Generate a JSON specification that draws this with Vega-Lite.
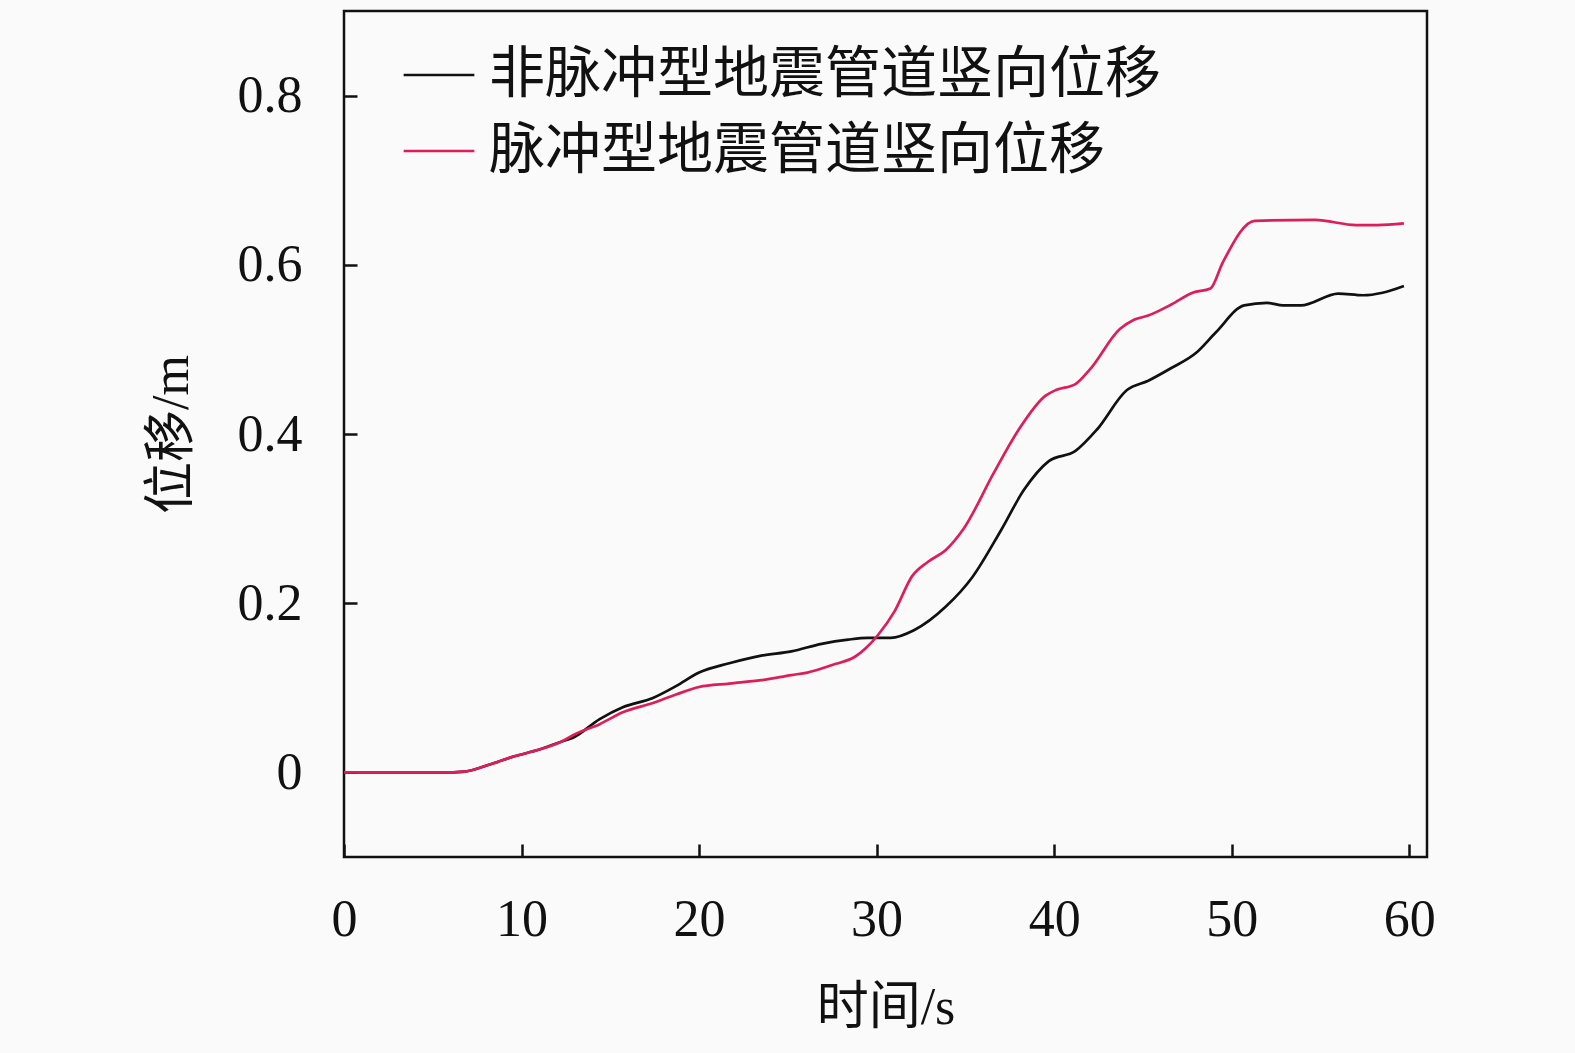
{
  "$schema": "https://vega.github.io/schema/vega-lite/v6.json",
  "width": 1083,
  "height": 846,
  "autosize": "none",
  "padding": {"left": 344, "top": 11, "right": 148, "bottom": 196},
  "background": "#fafafa",
  "data": {
    "values": [
      {"s": "非脉冲型地震管道竖向位移", "t": 0, "v": 0},
      {"s": "非脉冲型地震管道竖向位移", "t": 3, "v": 0},
      {"s": "非脉冲型地震管道竖向位移", "t": 5.5, "v": 0},
      {"s": "非脉冲型地震管道竖向位移", "t": 6.8, "v": 0.001},
      {"s": "非脉冲型地震管道竖向位移", "t": 8.3, "v": 0.01},
      {"s": "非脉冲型地震管道竖向位移", "t": 9.6, "v": 0.019},
      {"s": "非脉冲型地震管道竖向位移", "t": 11, "v": 0.027},
      {"s": "非脉冲型地震管道竖向位移", "t": 12.2, "v": 0.036},
      {"s": "非脉冲型地震管道竖向位移", "t": 12.9, "v": 0.041},
      {"s": "非脉冲型地震管道竖向位移", "t": 14.4, "v": 0.063},
      {"s": "非脉冲型地震管道竖向位移", "t": 15.7, "v": 0.077},
      {"s": "非脉冲型地震管道竖向位移", "t": 17.4, "v": 0.088},
      {"s": "非脉冲型地震管道竖向位移", "t": 18.7, "v": 0.102},
      {"s": "非脉冲型地震管道竖向位移", "t": 20.0, "v": 0.118},
      {"s": "非脉冲型地震管道竖向位移", "t": 21.7, "v": 0.129},
      {"s": "非脉冲型地震管道竖向位移", "t": 23.5, "v": 0.138},
      {"s": "非脉冲型地震管道竖向位移", "t": 25.2, "v": 0.143},
      {"s": "非脉冲型地震管道竖向位移", "t": 26.9, "v": 0.152},
      {"s": "非脉冲型地震管道竖向位移", "t": 28.4, "v": 0.157},
      {"s": "非脉冲型地震管道竖向位移", "t": 29.5, "v": 0.159},
      {"s": "非脉冲型地震管道竖向位移", "t": 30.8, "v": 0.159},
      {"s": "非脉冲型地震管道竖向位移", "t": 32.1, "v": 0.168},
      {"s": "非脉冲型地震管道竖向位移", "t": 33.9, "v": 0.196},
      {"s": "非脉冲型地震管道竖向位移", "t": 35.4, "v": 0.231},
      {"s": "非脉冲型地震管道竖向位移", "t": 37.0, "v": 0.286},
      {"s": "非脉冲型地震管道竖向位移", "t": 38.3, "v": 0.334},
      {"s": "非脉冲型地震管道竖向位移", "t": 39.7, "v": 0.368},
      {"s": "非脉冲型地震管道竖向位移", "t": 41.2, "v": 0.38},
      {"s": "非脉冲型地震管道竖向位移", "t": 42.4, "v": 0.405},
      {"s": "非脉冲型地震管道竖向位移", "t": 44.1, "v": 0.452},
      {"s": "非脉冲型地震管道竖向位移", "t": 45.3, "v": 0.463},
      {"s": "非脉冲型地震管道竖向位移", "t": 46.6, "v": 0.478},
      {"s": "非脉冲型地震管道竖向位移", "t": 48.0, "v": 0.496},
      {"s": "非脉冲型地震管道竖向位移", "t": 49.1, "v": 0.52},
      {"s": "非脉冲型地震管道竖向位移", "t": 50.7, "v": 0.552},
      {"s": "非脉冲型地震管道竖向位移", "t": 52.0, "v": 0.555},
      {"s": "非脉冲型地震管道竖向位移", "t": 52.9, "v": 0.552},
      {"s": "非脉冲型地震管道竖向位移", "t": 53.9, "v": 0.552},
      {"s": "非脉冲型地震管道竖向位移", "t": 56.0, "v": 0.566},
      {"s": "非脉冲型地震管道竖向位移", "t": 57.4, "v": 0.564},
      {"s": "非脉冲型地震管道竖向位移", "t": 58.5, "v": 0.567},
      {"s": "非脉冲型地震管道竖向位移", "t": 59.7, "v": 0.575},
      {"s": "脉冲型地震管道竖向位移", "t": 0, "v": 0},
      {"s": "脉冲型地震管道竖向位移", "t": 3, "v": 0},
      {"s": "脉冲型地震管道竖向位移", "t": 5.5, "v": 0},
      {"s": "脉冲型地震管道竖向位移", "t": 6.8, "v": 0.001},
      {"s": "脉冲型地震管道竖向位移", "t": 8.3, "v": 0.01},
      {"s": "脉冲型地震管道竖向位移", "t": 9.6, "v": 0.019},
      {"s": "脉冲型地震管道竖向位移", "t": 11, "v": 0.027},
      {"s": "脉冲型地震管道竖向位移", "t": 12.2, "v": 0.036},
      {"s": "脉冲型地震管道竖向位移", "t": 13.1, "v": 0.046},
      {"s": "脉冲型地震管道竖向位移", "t": 14.4, "v": 0.057},
      {"s": "脉冲型地震管道竖向位移", "t": 15.7, "v": 0.071},
      {"s": "脉冲型地震管道竖向位移", "t": 17.4, "v": 0.082},
      {"s": "脉冲型地震管道竖向位移", "t": 18.7, "v": 0.092},
      {"s": "脉冲型地震管道竖向位移", "t": 20.0, "v": 0.101},
      {"s": "脉冲型地震管道竖向位移", "t": 21.7, "v": 0.105},
      {"s": "脉冲型地震管道竖向位移", "t": 23.5, "v": 0.109},
      {"s": "脉冲型地震管道竖向位移", "t": 25.2, "v": 0.115},
      {"s": "脉冲型地震管道竖向位移", "t": 26.1, "v": 0.118},
      {"s": "脉冲型地震管道竖向位移", "t": 27.5, "v": 0.127},
      {"s": "脉冲型地震管道竖向位移", "t": 28.8, "v": 0.137},
      {"s": "脉冲型地震管道竖向位移", "t": 29.4, "v": 0.147},
      {"s": "脉冲型地震管道竖向位移", "t": 30.1, "v": 0.163},
      {"s": "脉冲型地震管道竖向位移", "t": 31.0, "v": 0.19},
      {"s": "脉冲型地震管道竖向位移", "t": 32.0, "v": 0.232},
      {"s": "脉冲型地震管道竖向位移", "t": 32.9, "v": 0.249},
      {"s": "脉冲型地震管道竖向位移", "t": 33.9, "v": 0.263},
      {"s": "脉冲型地震管道竖向位移", "t": 34.9, "v": 0.288},
      {"s": "脉冲型地震管道竖向位移", "t": 36.6, "v": 0.354},
      {"s": "脉冲型地震管道竖向位移", "t": 38.0, "v": 0.405},
      {"s": "脉冲型地震管道竖向位移", "t": 39.5, "v": 0.445},
      {"s": "脉冲型地震管道竖向位移", "t": 40.1, "v": 0.452},
      {"s": "脉冲型地震管道竖向位移", "t": 41.2, "v": 0.459},
      {"s": "脉冲型地震管道竖向位移", "t": 42.0, "v": 0.476},
      {"s": "脉冲型地震管道竖向位移", "t": 43.7, "v": 0.524},
      {"s": "脉冲型地震管道竖向位移", "t": 44.5, "v": 0.535},
      {"s": "脉冲型地震管道竖向位移", "t": 45.3, "v": 0.54},
      {"s": "脉冲型地震管道竖向位移", "t": 46.6, "v": 0.553},
      {"s": "脉冲型地震管道竖向位移", "t": 47.8, "v": 0.567},
      {"s": "脉冲型地震管道竖向位移", "t": 48.8, "v": 0.572},
      {"s": "脉冲型地震管道竖向位移", "t": 49.5, "v": 0.603},
      {"s": "脉冲型地震管道竖向位移", "t": 51.3, "v": 0.652},
      {"s": "脉冲型地震管道竖向位移", "t": 54.7, "v": 0.653},
      {"s": "脉冲型地震管道竖向位移", "t": 57.0, "v": 0.647},
      {"s": "脉冲型地震管道竖向位移", "t": 58.2, "v": 0.647},
      {"s": "脉冲型地震管道竖向位移", "t": 59.7, "v": 0.649}
    ]
  },
  "mark": {"type": "line", "strokeWidth": 2.7, "interpolate": "monotone"},
  "encoding": {
    "x": {
      "field": "t",
      "type": "quantitative",
      "scale": {"domain": [0, 61], "nice": false, "zero": false},
      "axis": {
        "values": [0, 10, 20, 30, 40, 50, 60],
        "title": "时间/s",
        "titleY": 163,
        "titleBaseline": "middle",
        "domain": false,
        "offset": -13,
        "tickSize": 13,
        "labelPadding": 37,
        "labelFlush": false
      }
    },
    "y": {
      "field": "v",
      "type": "quantitative",
      "scale": {"domain": [-0.1, 0.9], "nice": false, "zero": false},
      "axis": {
        "values": [0, 0.2, 0.4, 0.6, 0.8],
        "labelExpr": "datum.value == 0 ? '0' : format(datum.value, '.1f')",
        "title": "位移/m",
        "titleX": -186,
        "titleY": 423,
        "titleBaseline": "middle",
        "titleAngle": -90,
        "domain": false,
        "offset": -13,
        "tickSize": 13,
        "labelPadding": 42,
        "labelFlush": false
      }
    },
    "color": {
      "field": "s",
      "type": "nominal",
      "sort": ["非脉冲型地震管道竖向位移", "脉冲型地震管道竖向位移"],
      "scale": {
        "domain": ["非脉冲型地震管道竖向位移", "脉冲型地震管道竖向位移"],
        "range": ["#111111", "#dc1e5a"]
      },
      "legend": {
        "title": null,
        "orient": "none",
        "legendX": 58,
        "legendY": 27,
        "symbolType": "stroke",
        "symbolSize": 5000,
        "symbolStrokeWidth": 2.7,
        "labelFontSize": 56,
        "labelOffset": 13,
        "labelColor": "#111111",
        "labelFont": "Liberation Serif, Noto Sans CJK SC",
        "labelLimit": 1000,
        "rowPadding": 11
      }
    }
  },
  "config": {
    "view": {"stroke": "#111111", "strokeWidth": 2.5},
    "axis": {
      "grid": false,
      "tickColor": "#111111",
      "tickWidth": 2.5,
      "labelFont": "Liberation Serif, Noto Sans CJK SC",
      "labelFontSize": 52,
      "labelColor": "#111111",
      "labelFontWeight": "normal",
      "titleFont": "Liberation Serif, Noto Sans CJK SC",
      "titleFontSize": 52,
      "titleFontWeight": "normal",
      "titleColor": "#111111"
    }
  }
}
